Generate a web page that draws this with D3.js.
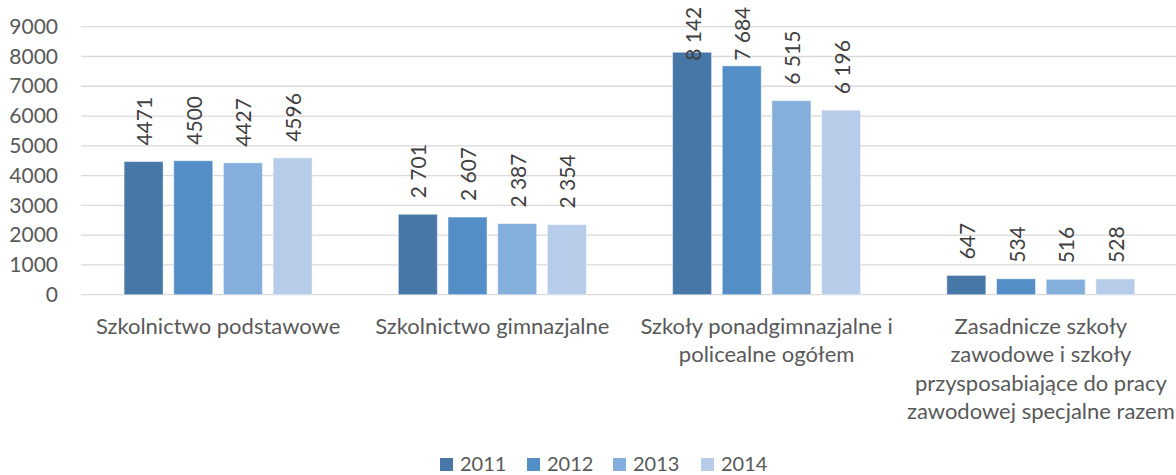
<!DOCTYPE html>
<html>
<head>
<meta charset="utf-8">
<script src="https://cdn.jsdelivr.net/npm/d3@7/dist/d3.min.js"></script>
<style>
  html, body { margin: 0; padding: 0; background: #fff; }
  svg { display: block; font-family: Lato, "Open Sans", sans-serif; }
</style>
</head>
<body>
<svg id="chart" width="1176" height="475"></svg>
<script>
// ---- data ----
const categories = [
  "Szkolnictwo podstawowe",
  "Szkolnictwo gimnazjalne",
  "Szkoły ponadgimnazjalne i policealne ogółem",
  "Zasadnicze szkoły zawodowe i szkoły przysposabiające do pracy zawodowej specjalne razem"
];
const categoryLines = [
  ["Szkolnictwo podstawowe"],
  ["Szkolnictwo gimnazjalne"],
  ["Szkoły ponadgimnazjalne i", "policealne ogółem"],
  ["Zasadnicze szkoły", "zawodowe i szkoły", "przysposabiające do pracy", "zawodowej specjalne razem"]
];
const years = ["2011", "2012", "2013", "2014"];
const values2011 = [4471, 2701, 8142, 647];
const values2012 = [4500, 2607, 7684, 534];
const values2013 = [4427, 2387, 6515, 516];
const values2014 = [4596, 2354, 6196, 528];
const spacedThousands = [false, true, true, true];
const yTicks = [0, 1000, 2000, 3000, 4000, 5000, 6000, 7000, 8000, 9000];
const colors = ["#4677a6", "#538fc6", "#84aedb", "#b7cce8"];

const series = [values2011, values2012, values2013, values2014];

// ---- layout ----
const svg = d3.select("#chart");
const plotLeft = 81, plotRight = 1178, yTop = 26.7, yBottom = 294.7;

const x0 = d3.scaleBand().domain(categories).range([plotLeft, plotRight]).paddingInner(0).paddingOuter(0);
const x1 = d3.scaleBand().domain(years).range([43.1, 231.1]).paddingInner(0.215).paddingOuter(0);
const y = d3.scaleLinear().domain([0, 9000]).range([yBottom, yTop]);
const color = d3.scaleOrdinal().domain(years).range(colors);

// gridlines
svg.append("g")
  .selectAll("line")
  .data(yTicks)
  .join("line")
  .attr("x1", plotLeft).attr("x2", 1176)
  .attr("y1", d => y(d)).attr("y2", d => y(d))
  .attr("stroke", "#d9d9d9").attr("stroke-width", 1.3);

// y axis labels
const yAxis = d3.axisLeft(y).tickValues(yTicks).tickSize(0).tickPadding(0).tickFormat(d3.format("d"));
const yg = svg.append("g").attr("transform", "translate(58,0)").call(yAxis);
yg.select(".domain").remove();
yg.selectAll("text").attr("fill", "#595959").style("font-size", "21px").style("font-family", "Lato");

// bars
const flat = [];
categories.forEach((c, ci) => {
  years.forEach((yr, si) => flat.push({ cat: c, ci, year: yr, value: series[si][ci] }));
});

const fmtSpaced = d3.formatLocale({ decimal: ",", thousands: " ", grouping: [3], currency: ["", ""] }).format(",d");
const fmtPlain = d3.format("d");

const g = svg.append("g");
g.selectAll("rect")
  .data(flat)
  .join("rect")
  .attr("x", d => x0(d.cat) + x1(d.year))
  .attr("width", x1.bandwidth())
  .attr("y", d => y(d.value))
  .attr("height", d => y(0) - y(d.value))
  .attr("fill", d => color(d.year))
  .attr("stroke", "rgba(255,255,255,0.45)")
  .attr("stroke-width", 1);

// value labels (kept inside the chart: clamped at the top edge)
const labelTopLimit = 6.7;
g.selectAll("text.val")
  .data(flat)
  .join("text")
  .attr("class", "val")
  .attr("text-anchor", "start")
  .attr("dy", "0.36em")
  .attr("fill", "#404040")
  .style("font-size", "21px")
  .text(d => spacedThousands[d.ci] ? fmtSpaced(d.value) : fmtPlain(d.value))
  .attr("transform", function (d) {
    const len = this.getComputedTextLength();
    const cx = x0(d.cat) + x1(d.year) + x1.bandwidth() / 2 + 1;
    let cy = y(d.value) - 16;
    if (cy - len < labelTopLimit) cy = labelTopLimit + len;
    return `translate(${cx},${cy}) rotate(-90)`;
  });

// category labels
const cg = svg.append("g");
categories.forEach((c, ci) => {
  const t = cg.append("text")
    .attr("x", x0(c) + x0.bandwidth() / 2)
    .attr("y", 334)
    .attr("text-anchor", "middle")
    .attr("fill", "#595959")
    .style("font-size", "22px");
  categoryLines[ci].forEach((line, li) => {
    t.append("tspan")
      .attr("x", x0(c) + x0.bandwidth() / 2)
      .attr("y", 334 + li * 28.4)
      .text(line);
  });
});

// legend
const legendX = [440, 527, 613, 701];
const lg = svg.append("g");
years.forEach((yr, i) => {
  lg.append("rect")
    .attr("x", legendX[i]).attr("y", 458)
    .attr("width", 13).attr("height", 13)
    .attr("fill", color(yr));
  lg.append("text")
    .attr("x", legendX[i] + 20).attr("y", 470.5)
    .attr("fill", "#595959")
    .style("font-size", "20px")
    .text(yr);
});
</script>
</body>
</html>
